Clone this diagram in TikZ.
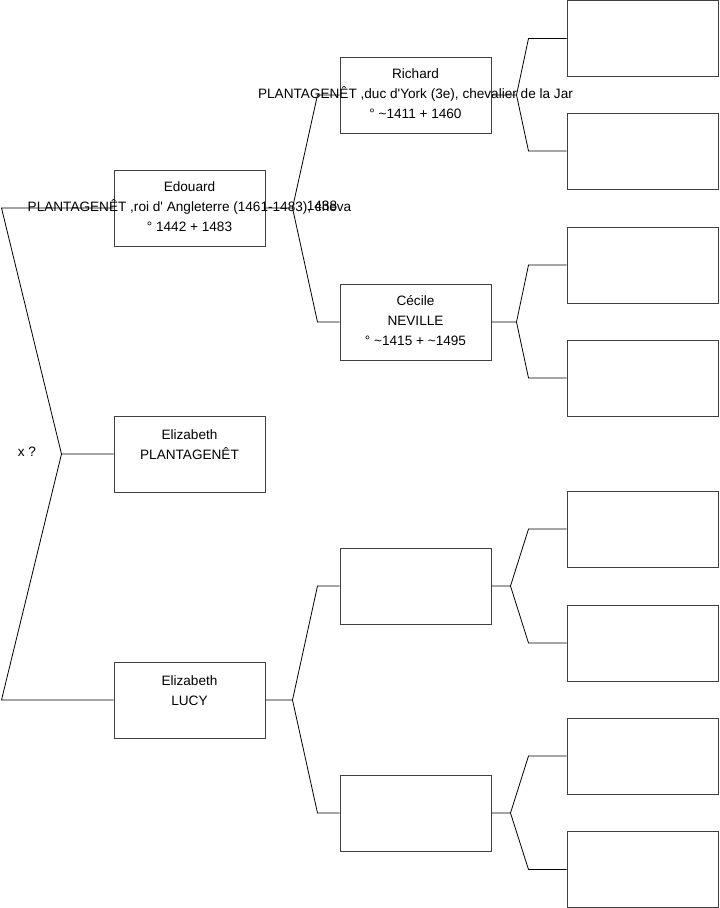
\documentclass[tikz,border=0pt]{standalone}
\usepackage{fontspec}
\setmainfont{Liberation Sans}
\usetikzlibrary{calc}

\begin{document}
\begin{tikzpicture}[x=0.75pt, y=-0.75pt, line width=0.6pt,
  box/.style={draw=black!75, line width=0.75pt, minimum width=113.25pt, minimum height=57pt, inner sep=0pt},
  txt/.style={align=center, font=\fontsize{10.2}{15}\selectfont, inner sep=0pt}]
\useasboundingbox (0,0) rectangle (719,908);
% generation 1
\node[box] (edouard) at (189.5,208) {};
\node[box] (elizp) at (189.5,454) {};
\node[box] (lucy) at (189.5,700) {};
% generation 2
\node[box] (richard) at (415.5,95) {};
\node[box] (cecile) at (415.5,322) {};
\node[box] (p3) at (415.5,586) {};
\node[box] (p4) at (415.5,813) {};
% generation 3
\foreach \i/\y in {1/38.5,2/151,3/265,4/378,5/529,6/643,7/756,8/869.5}
  \node[box] (g\i) at (642.5,\y) {};
% forks
\draw (elizp.west) -- ++(-52,0) coordinate (k) -- ($(edouard.west)+(-112,0)$) -- (edouard.west);
\draw (k) -- ($(lucy.west)+(-112,0)$) -- (lucy.west);
\foreach \c/\f/\m/\d/\s in {edouard/richard/cecile/27/22, lucy/p3/p4/27/22,
    richard/g1/g2/25/38, cecile/g3/g4/25/38, p3/g5/g6/19/38, p4/g7/g8/19/38} {
  \draw (\c.east) -- ++(\d,0) coordinate (k) -- ($(\f.west)+(-\s,0)$) -- (\f.west);
  \draw (k) -- ($(\m.west)+(-\s,0)$) -- (\m.west);
}
% names
\node[txt] (tedouard) at ($(edouard)+(0,-1)$) {Edouard\\PLANTAGENÊT ,roi d\textquotesingle{} Angleterre (1461-1483), cheva\\° 1442 + 1483};
\node[txt] (tyear) at (322,206) {1438};
\node[txt] (telizp) at ($(elizp)+(0,1)$) {Elizabeth\\PLANTAGENÊT\\~};
\node[txt] (tlucy) at ($(lucy)+(0,1)$) {Elizabeth\\LUCY\\~};
\node[txt] (trichard) at ($(richard)+(0,-1)$) {Richard\\PLANTAGENÊT ,duc d\textquotesingle York (3e), chevalier de la Jar\\° \textasciitilde1411 + 1460};
\node[txt] (tcecile) at ($(cecile)+(0,-1)$) {Cécile\\NEVILLE\\° \textasciitilde1415 + \textasciitilde1495};
\node[txt] (xq) at (27,452) {x ?};
\end{tikzpicture}
\end{document}
